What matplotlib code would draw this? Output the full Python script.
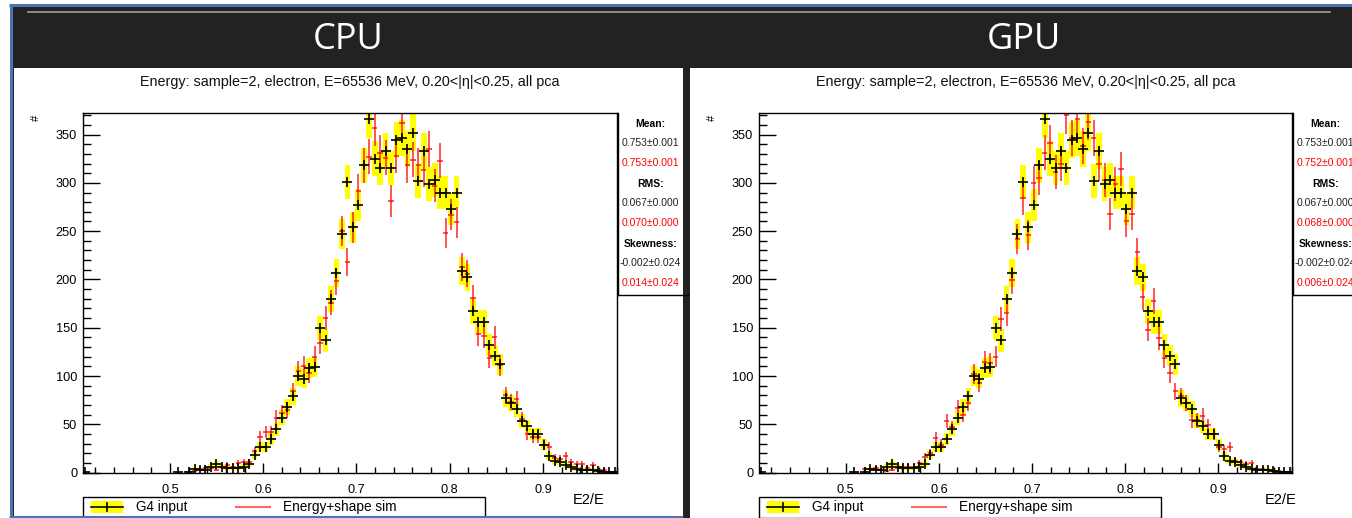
import matplotlib
matplotlib.use('Agg')
import matplotlib.pyplot as plt
import numpy as np
from matplotlib.patches import Rectangle
from matplotlib.ticker import MultipleLocator

plt.rcParams['font.family'] = ['Liberation Sans', 'DejaVu Sans']

W, H = 1352, 518

# histogram binning (E2/E)
X_MIN, X_MAX, N_BINS = 0.4064, 0.98, 98

# G4 input (same in both panels)
g4_input = [
    1, 0, 0, 0, 0, 0, 0, 0, 0, 0,
    0, 0, 0, 0, 0, 0, 0, 1, 0, 1,
    4, 3, 3, 6, 9, 6, 5, 5, 5, 6,
    9, 18, 27, 27, 35, 45, 57, 68, 79, 100,
    97, 108, 109, 150, 137, 180, 207, 247, 301, 254,
    277, 318, 366, 325, 315, 333, 315, 344, 346, 335,
    352, 302, 333, 299, 303, 290, 290, 273, 290, 209,
    202, 167, 156, 156, 132, 121, 112, 77, 72, 66,
    53, 48, 40, 40, 29, 17, 12, 11, 8, 6,
    4, 3, 3, 3, 2, 1, 1, 1]

# Energy+shape sim, CPU
sim_cpu = [
    0, 0, 0, 0, 0, 0, 0, 0, 0, 0,
    0, 0, 0, 0, 0, 0, 0, 0, 0, 1,
    2, 4, 5, 5, 3, 6, 8, 6, 10, 11,
    11, 22, 37, 42, 42, 57, 62, 65, 84, 105,
    110, 103, 120, 134, 160, 176, 198, 250, 218, 254,
    292, 318, 327, 357, 331, 326, 281, 328, 362, 318,
    324, 318, 313, 335, 297, 323, 248, 267, 259, 213,
    206, 181, 143, 141, 119, 140, 111, 80, 73, 76,
    55, 40, 37, 37, 29, 27, 15, 14, 17, 11,
    9, 9, 5, 8, 3, 3, 1, 1]

# Energy+shape sim, GPU
sim_gpu = [
    0, 0, 0, 0, 0, 0, 0, 0, 0, 0,
    0, 0, 0, 0, 0, 0, 0, 1, 0, 4,
    4, 5, 3, 2, 3, 5, 6, 6, 6, 10,
    16, 20, 36, 29, 53, 47, 67, 60, 72, 102,
    93, 115, 113, 120, 159, 165, 199, 242, 284, 246,
    300, 305, 331, 341, 311, 320, 370, 346, 366, 338,
    363, 346, 320, 303, 268, 299, 314, 260, 268, 228,
    182, 148, 178, 139, 119, 103, 84, 79, 72, 54,
    54, 59, 49, 40, 27, 24, 27, 12, 11, 9,
    10, 4, 4, 3, 2, 2, 1, 1]

panel_names = ['CPU', 'GPU']
hist_title = 'Energy: sample=2, electron, E=65536 MeV, 0.20<|\u03b7|<0.25, all pca'
stat_labels = ['Mean:', 'RMS:', 'Skewness:']
g4_stats = ['0.753\u00b10.001', '0.067\u00b10.000', '-0.002\u00b10.024']
cpu_stats = ['0.753\u00b10.001', '0.070\u00b10.000', '0.014\u00b10.024']
gpu_stats = ['0.752\u00b10.001', '0.068\u00b10.000', '0.006\u00b10.024']
legend_labels = ['G4 input', 'Energy+shape sim']

BLUE = '#4a74b4'
DARK = '#222222'
YELLOW = '#ffff00'
RED = '#ff0000'

fig = plt.figure(figsize=(W / 100, H / 100), dpi=100, facecolor='white')
bg = fig.add_axes([0, 0, 1, 1])
bg.set_xlim(0, W)
bg.set_ylim(H, 0)
bg.axis('off')

# frame of the slide
bg.add_patch(Rectangle((11, 5), W - 11, H - 5, color=DARK, lw=0))
bg.plot([9, W], [4.5, 4.5], color=BLUE, lw=2.2, solid_capstyle='butt')
bg.plot([10.5, 10.5], [3.5, H], color=BLUE, lw=2.2, solid_capstyle='butt')
bg.plot([28, 1330], [11.5, 11.5], color='#a0a0a0', lw=1.2)

edges = np.linspace(X_MIN, X_MAX, N_BINS + 1)
centers = 0.5 * (edges[:-1] + edges[1:])
bw = edges[1] - edges[0]
g4 = np.array(g4_input, dtype=float)

panels = [
    dict(off=0, white=(14, 68, 683, 516), ax=(82.7, 617.5), sim=sim_cpu,
         stats=cpu_stats, e2e=605),
    dict(off=676, white=(690, 68, W, H), ax=(758.7, 1292.5), sim=sim_gpu,
         stats=gpu_stats, e2e=1297),
]

ax_top, ax_bot = 113.3, 472.6

for name, p in zip(panel_names, panels):
    o = p['off']
    x0, y0, x1, y1 = p['white']
    bg.add_patch(Rectangle((x0, y0), x1 - x0, y1 - y0, color='white', lw=0))
    bg.text(348 + o, 40, name, color='white', fontsize=26, family='Open Sans',
            ha='center', va='center')
    bg.text(350 + o, 82, hist_title, fontsize=10.4, ha='center', va='center',
            color='#111111')
    bg.text(36 + o, 118, '#', fontsize=8, rotation=90, ha='center', va='center')
    bg.text(p['e2e'], 500, 'E2/E', fontsize=10.5, ha='right', va='center')

    # stats box
    bx0 = p['ax'][1]
    bcx = bx0 + 33
    bg.plot([bx0, bx0], [113.3, 294.5], color='black', lw=1)
    bg.plot([bx0, bx0 + 70], [294.5, 294.5], color='black', lw=1)
    ys = [124, 143, 162.5, 184, 203.5, 223.5, 244, 263.5, 283]
    for k in range(3):
        bg.text(bcx, ys[3 * k], stat_labels[k], fontsize=7.5, weight='bold',
                ha='center', va='center')
        bg.text(bcx, ys[3 * k + 1], g4_stats[k], fontsize=7.5, ha='center',
                va='center', color='#222222')
        bg.text(bcx, ys[3 * k + 2], p['stats'][k], fontsize=7.5, ha='center',
                va='center', color=RED)

    # legend
    bg.add_patch(Rectangle((83 + o, 497), 402, 21, facecolor='white',
                           edgecolor='black', lw=1))
    bg.add_patch(Rectangle((91 + o, 501), 32, 12, color=YELLOW, lw=0))
    bg.plot([91 + o, 123 + o], [507, 507], color='black', lw=1.2)
    bg.plot([107 + o, 107 + o], [503, 511], color='black', lw=1.2)
    bg.text(136 + o, 507, legend_labels[0], fontsize=9.8, va='center')
    bg.plot([236 + o, 270 + o], [507, 507], color=RED, lw=1.5, alpha=0.6)
    bg.text(283 + o, 507, legend_labels[1], fontsize=9.8, va='center')

    # histogram axes
    left, right = p['ax']
    ax = fig.add_axes([left / W, (H - ax_bot) / H, (right - left) / W,
                       (ax_bot - ax_top) / H])
    sim = np.array(p['sim'], dtype=float)
    m = g4 > 0
    err = np.sqrt(g4[m])
    ax.bar(centers[m], 2 * err, bottom=g4[m] - err, width=bw * 1.05,
           color=YELLOW, lw=0, zorder=1)
    ms = sim > 0
    ax.errorbar(centers[ms], sim[ms], xerr=bw / 2, yerr=np.sqrt(sim[ms]),
                fmt='none', ecolor=RED, elinewidth=1.1, alpha=0.85, capsize=0,
                zorder=2)
    ax.plot(centers[m], g4[m], ls='none', marker='+', color='black', ms=6.5,
            mew=1.2, zorder=3)

    ax.set_xlim(X_MIN, X_MAX)
    ax.set_ylim(0, 372)
    ax.xaxis.set_major_locator(MultipleLocator(0.1))
    ax.xaxis.set_minor_locator(MultipleLocator(0.02))
    ax.yaxis.set_major_locator(MultipleLocator(50))
    ax.yaxis.set_minor_locator(MultipleLocator(10))
    ax.tick_params(axis='y', which='major', direction='in', length=12,
                   width=1, labelsize=9.2, pad=4)
    ax.tick_params(axis='y', which='minor', direction='in', length=6, width=1)
    ax.tick_params(axis='x', which='major', direction='in', length=7,
                   width=1, labelsize=9.2, pad=8)
    ax.tick_params(axis='x', which='minor', direction='in', length=4, width=1)
    for s in ax.spines.values():
        s.set_linewidth(1)

bg.plot([9, 683], [517, 517], color=BLUE, lw=2.2, solid_capstyle='butt')

fig.savefig('out.png', dpi=100, facecolor=fig.get_facecolor())
